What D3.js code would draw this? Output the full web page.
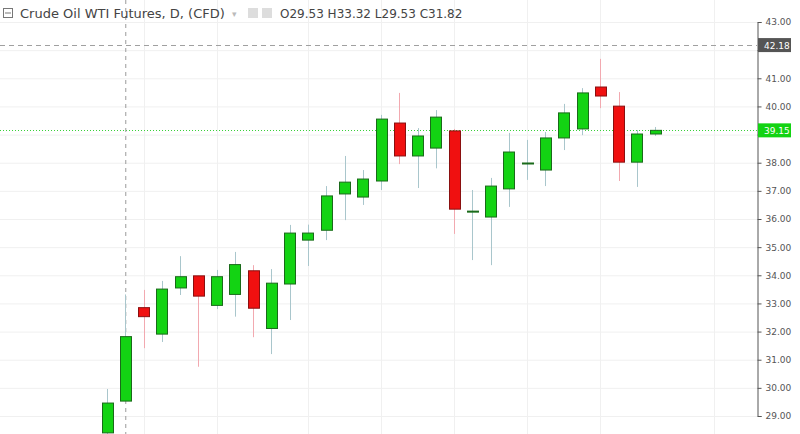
<!DOCTYPE html>
<html><head><meta charset="utf-8">
<script src="https://cdn.jsdelivr.net/npm/d3@7"></script>
<style>body{margin:0;background:#fff}</style></head>
<body><svg id="c" width="800" height="434"></svg>
<script>
const opens =  [28.40,29.53,32.85,31.91,33.55,33.98,32.93,33.32,34.16,32.11,33.69,35.25,35.60,36.89,36.78,37.35,39.41,38.24,38.52,39.13,36.28,36.07,37.07,37.99,37.74,38.88,39.20,40.69,40.01,38.02,39.02];
const closes = [29.46,31.82,32.53,33.51,33.95,33.26,33.95,34.38,32.83,33.72,35.50,35.50,36.82,37.31,37.42,39.55,38.24,38.95,39.62,36.35,36.28,37.17,38.38,37.99,38.88,39.77,40.48,40.37,38.02,39.02,39.15];
const highs =  [29.96,33.32,33.48,33.80,34.68,33.98,34.19,34.83,34.36,34.22,35.79,35.80,37.17,38.24,37.74,39.70,40.48,39.23,39.87,39.20,37.03,37.46,39.06,38.81,39.09,40.09,40.65,41.69,40.51,39.16,39.27];
const lows =   [28.20,29.53,31.41,31.63,33.30,30.75,32.80,32.53,31.80,31.20,32.41,34.33,35.25,35.96,36.50,37.03,37.95,37.10,37.80,35.47,34.54,34.36,36.43,37.39,37.17,38.45,38.98,39.94,37.35,37.14,38.95];
const yTicks = [29,30,31,32,33,34,35,36,37,38,39,40,41,42,43];
const gridIdx = [2,6,11,15,19,23,27,33.2];
const tags = [42.18,39.15];

const svg = d3.select("#c");
const W=800,H=434, axisX=757;
const y = d3.scaleLinear().domain([29,43]).range([416,22]);
const x = d3.scaleLinear().domain([0,1]).range([107,125.27]);
const bw = 11;

const g = svg.append("g");
g.selectAll(".hg").data(yTicks).join("line").attr("x1",0).attr("x2",axisX)
 .attr("y1",d=>y(d)+0.5).attr("y2",d=>y(d)+0.5).attr("stroke","#f0f0f0");
g.selectAll(".vg").data(gridIdx).join("line").attr("y1",0).attr("y2",H)
 .attr("x1",d=>Math.round(x(d))+0.5).attr("x2",d=>Math.round(x(d))+0.5).attr("stroke","#f0f0f0");

g.append("line").attr("x1",0).attr("x2",axisX).attr("y1",Math.round(y(42.18))+0.5).attr("y2",Math.round(y(42.18))+0.5)
 .attr("stroke","#a0a0a0").attr("stroke-dasharray","5,4");
g.append("line").attr("x1",0).attr("x2",axisX).attr("y1",Math.round(y(39.15))+0.5).attr("y2",Math.round(y(39.15))+0.5)
 .attr("stroke","#3ad13a").attr("stroke-dasharray","1,2");
g.append("line").attr("x1",x(1)+0.5).attr("x2",x(1)+0.5).attr("y1",0).attr("y2",H)
 .attr("stroke","#9a9a9a").attr("stroke-dasharray","4,4");

const idx = d3.range(opens.length);
g.selectAll(".w").data(idx).join("line")
 .attr("x1",i=>Math.round(x(i))+0.5).attr("x2",i=>Math.round(x(i))+0.5)
 .attr("y1",i=>y(highs[i])).attr("y2",i=>y(lows[i]))
 .attr("stroke",i=>closes[i]>=opens[i]?"#a9c6cc":"#f2a9b0");
g.selectAll(".b").data(idx).join("rect")
 .attr("x",i=>Math.round(x(i)-bw/2)+0.5).attr("width",bw)
 .attr("y",i=>y(Math.max(opens[i],closes[i]))).attr("height",i=>Math.max(1,Math.abs(y(opens[i])-y(closes[i]))))
 .attr("fill",i=>closes[i]>=opens[i]?"#13d313":"#f01010")
 .attr("stroke",i=>closes[i]>=opens[i]?"#1a6a1a":"#8a1010").attr("stroke-width",1);

svg.append("rect").attr("x",axisX).attr("y",0).attr("width",W-axisX).attr("height",H).attr("fill","#fff");
const ax = svg.append("g").attr("transform",`translate(${axisX+0.5},0)`)
 .call(d3.axisRight(y).tickValues(yTicks).tickSize(4).tickPadding(4)
   .tickFormat(d=> tags.some(t=>Math.abs(y(t)-y(d))<12) ? "" : d3.format(".2f")(d)));
ax.select(".domain").attr("stroke","#555");
ax.selectAll(".tick line").attr("stroke","#555");
ax.selectAll("text").attr("font-family","Verdana, DejaVu Sans, sans-serif").attr("font-size",9).attr("fill","#555");

function tag(v,bg){
  const yy=y(v);
  svg.append("rect").attr("x",axisX+1).attr("y",yy-7).attr("width",33).attr("height",14).attr("fill",bg);
  svg.append("text").attr("x",axisX+7).attr("y",yy+3.5).text(v.toFixed(2))
   .attr("font-family","Verdana, DejaVu Sans, sans-serif").attr("font-size",9).attr("fill","#fff");
}
tag(tags[0],"#555");
tag(tags[1],"#13d313");

const hd = svg.append("g").attr("font-family","DejaVu Sans, Verdana, sans-serif");
hd.append("rect").attr("x",3.5).attr("y",8.5).attr("width",9).attr("height",9).attr("fill","#fff").attr("stroke","#777");
hd.append("line").attr("x1",5).attr("x2",11).attr("y1",13).attr("y2",13).attr("stroke","#777");
hd.append("text").attr("x",20).attr("y",18).attr("font-size",13).attr("fill","#444").text("Crude Oil WTI Futures, D, (CFD)");
hd.append("text").attr("x",232).attr("y",17).attr("font-size",9).attr("fill","#bbb").text("▾");
hd.append("rect").attr("x",248).attr("y",8).attr("width",10).attr("height",10).attr("fill","#ddd");
hd.append("rect").attr("x",262).attr("y",8).attr("width",10).attr("height",10).attr("fill","#ddd");
hd.append("text").attr("x",280).attr("y",18).attr("font-size",12).attr("fill","#444").text("O29.53  H33.32  L29.53  C31.82");
</script></body></html>
